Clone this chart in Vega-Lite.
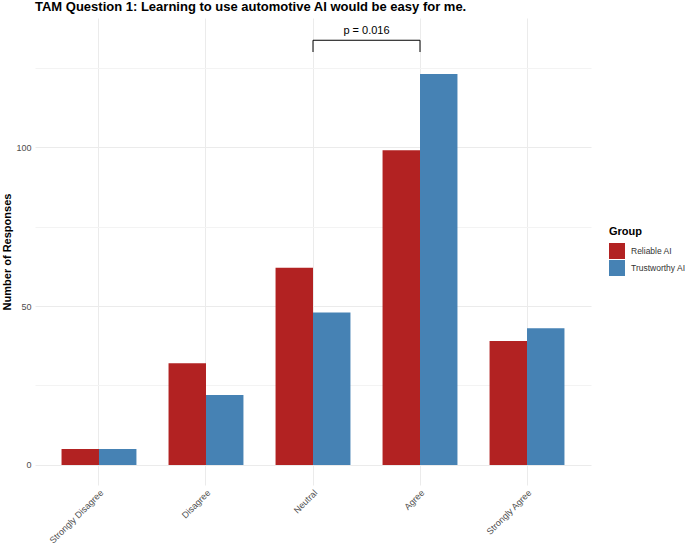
{
  "$schema": "https://vega.github.io/schema/vega-lite/v6.json",
  "width": 556,
  "height": 467,
  "autosize": "none",
  "padding": {"left": 35, "top": 18, "right": 94, "bottom": 60},
  "config": {"view": {"stroke": null}, "font": "Liberation Sans"},
  "title": {"text": "TAM Question 1: Learning to use automotive AI would be easy for me.", "anchor": "start", "frame": "group", "fontSize": 13, "fontWeight": "bold", "color": "#000000", "offset": 4},
  "layer": [
    {
      "data": {"values": [
        {"response": "Strongly Disagree", "group": "Reliable AI", "count": 5},
        {"response": "Strongly Disagree", "group": "Trustworthy AI", "count": 5},
        {"response": "Disagree", "group": "Reliable AI", "count": 32},
        {"response": "Disagree", "group": "Trustworthy AI", "count": 22},
        {"response": "Neutral", "group": "Reliable AI", "count": 62},
        {"response": "Neutral", "group": "Trustworthy AI", "count": 48},
        {"response": "Agree", "group": "Reliable AI", "count": 99},
        {"response": "Agree", "group": "Trustworthy AI", "count": 123},
        {"response": "Strongly Agree", "group": "Reliable AI", "count": 39},
        {"response": "Strongly Agree", "group": "Trustworthy AI", "count": 43}
      ]},
      "mark": {"type": "bar"},
      "encoding": {
        "x": {"field": "response", "type": "nominal",
          "scale": {"type": "band", "domain": ["Strongly Disagree", "Disagree", "Neutral", "Agree", "Strongly Agree"], "paddingInner": 0.3, "paddingOuter": 0.248},
          "axis": {"title": null, "labelAngle": -45, "labelAlign": "right", "labelBaseline": "top", "labelFontSize": 9, "labelColor": "#4D4D4D", "labelPadding": 3, "ticks": false, "domain": false, "grid": true, "gridColor": "#EBEBEB", "gridWidth": 1, "bandPosition": 0.5}},
        "xOffset": {"field": "group", "type": "nominal", "scale": {"paddingInner": 0, "paddingOuter": 0}},
        "y": {"field": "count", "type": "quantitative",
          "scale": {"domain": [-6.3, 140.6], "nice": false, "zero": false},
          "axis": {"title": "Number of Responses", "titleFontSize": 11, "titleFontWeight": "bold", "titleColor": "#000000", "titlePadding": 3,
            "values": [0, 25, 50, 75, 100, 125], "labelExpr": "datum.value % 50 === 0 ? datum.label : ''",
            "labelFontSize": 9, "labelColor": "#4D4D4D", "labelPadding": 4, "ticks": false, "domain": false,
            "gridColor": {"condition": {"test": "datum.value % 50 === 0", "value": "#EBEBEB"}, "value": "#F3F3F3"},
            "gridWidth": 1}},
        "color": {"field": "group", "type": "nominal",
          "scale": {"domain": ["Reliable AI", "Trustworthy AI"], "range": ["#B22222", "#4682B4"]},
          "legend": {"title": "Group", "orient": "none", "legendX": 574, "legendY": 208, "titleFontSize": 11, "titleFontWeight": "bold", "titleColor": "#000000", "titlePadding": 6,
            "labelFontSize": 8.5, "labelColor": "#333333", "labelLimit": 200, "symbolType": "square", "symbolSize": 256, "symbolStrokeWidth": 0, "symbolOpacity": 1, "rowPadding": 1, "labelOffset": 6}}
      }
    },
    {
      "data": {"values": [
        {"x": "Neutral", "x2": "Agree", "y": 133.6, "y2": 133.6},
        {"x": "Neutral", "x2": "Neutral", "y": 129.9, "y2": 133.6},
        {"x": "Agree", "x2": "Agree", "y": 129.9, "y2": 133.6}
      ]},
      "mark": {"type": "rule", "color": "#000000", "strokeWidth": 1},
      "encoding": {
        "x": {"field": "x", "type": "nominal", "bandPosition": 0.5},
        "x2": {"field": "x2", "bandPosition": 0.5},
        "y": {"field": "y", "type": "quantitative"},
        "y2": {"field": "y2"}
      }
    },
    {
      "data": {"values": [{"x": "Neutral", "y": 136.6, "label": "p = 0.016"}]},
      "mark": {"type": "text", "fontSize": 11, "color": "#000000", "align": "center", "baseline": "middle"},
      "encoding": {
        "x": {"field": "x", "type": "nominal", "bandPosition": 1.214},
        "y": {"field": "y", "type": "quantitative"},
        "text": {"field": "label"}
      }
    }
  ]
}
